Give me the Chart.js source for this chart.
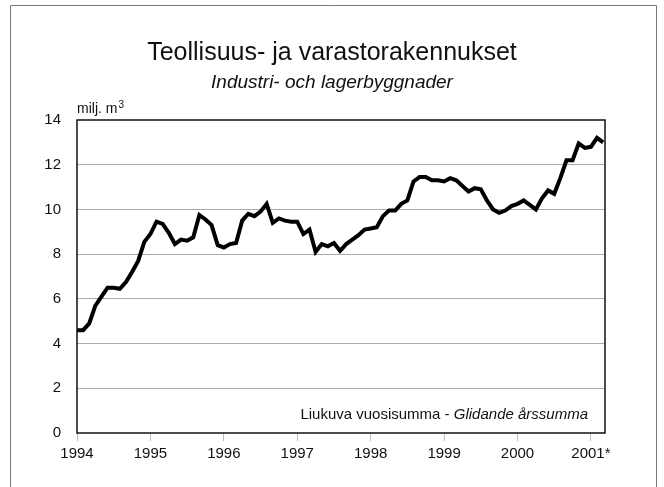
<!DOCTYPE html>
<html>
<head>
<meta charset="utf-8">
<script src="https://cdn.jsdelivr.net/npm/chart.js@4"></script>
<style>
  html, body { margin: 0; padding: 0; background: #fff; }
  #wrap { width: 664px; height: 487px; position: relative; }
</style>
</head>
<body>
<div id="wrap"><canvas id="chart" width="664" height="487"></canvas></div>
<script>
const FONT = "'Liberation Sans Narrow', 'Arial Narrow', 'Liberation Sans', sans-serif";

const title = "Teollisuus- ja varastorakennukset";
const subtitle = "Industri- och lagerbyggnader";
const unitLabel = "milj. m";
const noteFi = "Liukuva vuosisumma - ";
const noteSv = "Glidande årssumma";

// x labels at each January (month index 0, 12, 24 ...)
const yearLabels = ["1994", "1995", "1996", "1997", "1998", "1999", "2000", "2001*"];

// moving annual sum, monthly from Jan 1994 to Mar 2001, million m3
const values = [
  4.6, 4.6, 4.9, 5.7, 6.1, 6.5, 6.5, 6.45, 6.75, 7.2, 7.7, 8.55,
  8.9, 9.45, 9.35, 8.95, 8.45, 8.65, 8.6, 8.75, 9.75, 9.55, 9.3, 8.4,
  8.3, 8.45, 8.5, 9.5, 9.8, 9.7, 9.9, 10.25, 9.4, 9.6, 9.5, 9.45,
  9.45, 8.9, 9.1, 8.1, 8.45, 8.35, 8.5, 8.15, 8.45, 8.65, 8.85, 9.1,
  9.15, 9.2, 9.7, 9.95, 9.95, 10.25, 10.4, 11.25, 11.45, 11.45, 11.3, 11.3,
  11.25, 11.4, 11.3, 11.05, 10.8, 10.95, 10.9, 10.4, 10.0, 9.85, 9.95, 10.15,
  10.25, 10.4, 10.2, 10.0, 10.5, 10.85, 10.7, 11.4, 12.2, 12.2, 12.95, 12.75,
  12.8, 13.2, 13.0
];

const points = values.map((v, i) => ({ x: i, y: v }));

const decorations = {
  id: "decorations",
  afterDraw(chart) {
    const { ctx, chartArea: a } = chart;
    ctx.save();
    // outer frame
    ctx.strokeStyle = "#777";
    ctx.lineWidth = 1;
    ctx.beginPath();
    ctx.moveTo(10.5, 487);
    ctx.lineTo(10.5, 5.5);
    ctx.lineTo(656.5, 5.5);
    ctx.lineTo(656.5, 487);
    ctx.stroke();

    // plot box
    ctx.strokeStyle = "#111";
    ctx.lineWidth = 1.5;
    ctx.strokeRect(a.left, a.top, a.right - a.left, a.bottom - a.top);

    ctx.fillStyle = "#111";
    ctx.textAlign = "center";
    ctx.textBaseline = "alphabetic";
    ctx.font = "25px " + FONT;
    ctx.fillText(title, 332, 60);
    ctx.font = "italic 19px " + FONT;
    ctx.fillText(subtitle, 332, 88);

    ctx.textAlign = "left";
    ctx.font = "14px " + FONT;
    ctx.fillText(unitLabel, a.left, 113);
    const w = ctx.measureText(unitLabel).width;
    ctx.font = "10px " + FONT;
    ctx.fillText("3", a.left + w + 1, 108);

    ctx.font = "15px " + FONT;
    const w1 = ctx.measureText(noteFi).width;
    ctx.font = "italic 15px " + FONT;
    const w2 = ctx.measureText(noteSv).width;
    const x0 = 588 - w1 - w2;
    ctx.font = "15px " + FONT;
    ctx.fillText(noteFi, x0, 419);
    ctx.font = "italic 15px " + FONT;
    ctx.fillText(noteSv, x0 + w1, 419);
    ctx.restore();
  }
};

new Chart(document.getElementById("chart"), {
  type: "line",
  data: {
    datasets: [{
      data: points,
      borderColor: "#000",
      borderWidth: 4,
      pointRadius: 0,
      tension: 0,
      borderJoinStyle: "miter",
      clip: false
    }]
  },
  options: {
    responsive: false,
    animation: false,
    layout: { padding: { left: 0, right: 59, top: 120, bottom: 0 } },
    plugins: { legend: { display: false }, tooltip: { enabled: false } },
    scales: {
      x: {
        type: "linear",
        min: 0,
        max: 86.3,
        afterBuildTicks: (scale) => {
          scale.ticks = yearLabels.map((_, i) => ({ value: i * 12 }));
        },
        afterFit: (scale) => { scale.height = 54; },
        border: { display: false },
        grid: { drawOnChartArea: false, drawTicks: true, tickLength: 8, tickColor: "#bbb" },
        ticks: {
          autoSkip: false,
          maxRotation: 0,
          padding: 4,
          color: "#111",
          font: { family: FONT, size: 15 },
          callback: (v) => yearLabels[Math.round(v / 12)]
        }
      },
      y: {
        min: 0,
        max: 14,
        afterFit: (scale) => { scale.width = 77; },
        border: { display: false },
        grid: {
          color: (c) => (c.tick.value === 0 || c.tick.value === 14) ? "rgba(0,0,0,0)" : "#aaa",
          borderDash: [1, 2],
          lineWidth: 1,
          drawTicks: false
        },
        ticks: {
          stepSize: 2,
          padding: 16,
          color: "#111",
          font: { family: FONT, size: 15 }
        }
      }
    }
  },
  plugins: [decorations]
});
</script>
</body>
</html>
